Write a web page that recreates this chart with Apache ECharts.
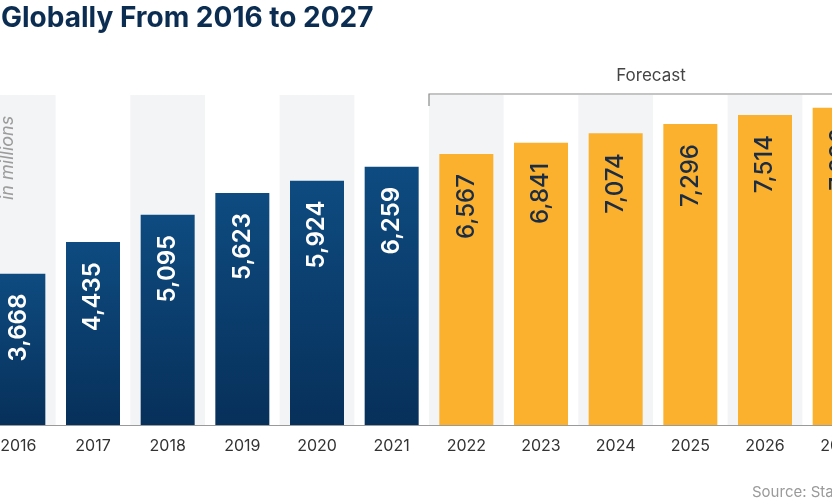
<!DOCTYPE html>
<html>
<head>
<meta charset="utf-8">
<script src="https://cdn.jsdelivr.net/npm/echarts@6/dist/echarts.min.js"></script>
<style>
html,body{margin:0;padding:0;background:#fff;overflow:hidden;width:832px;height:498px;position:relative;}
#chart{position:absolute;left:-19px;top:0;width:900px;height:498px;}
</style>
</head>
<body>
<div id="chart"></div>
<script>
var years = ['2016','2017','2018','2019','2020','2021','2022','2023','2024','2025','2026','2027'];
var values = [3668, 4435, 5095, 5623, 5924, 6259, 6567, 6841, 7074, 7296, 7514, 7690];
var forecastFrom = '2022';
var titleText = 'Globally From 2016 to 2027';
var unitText = 'in millions';
var forecastText = 'Forecast';
var sourceText = 'Source: Statista';

var OFF = 19; // container is shifted left by this many px
var fIdx = years.indexOf(forecastFrom);
var navyGrad = new echarts.graphic.LinearGradient(0, 0, 0, 1, [
  {offset: 0, color: '#0e4b80'},
  {offset: 1, color: '#07305a'}
]);
var dataItems = values.map(function (v, i) {
  var fc = i >= fIdx;
  return {
    value: v,
    itemStyle: {color: fc ? '#fbb12e' : navyGrad},
    label: {color: fc ? '#1b2c45' : '#ffffff', fontWeight: fc ? 500 : 600}
  };
});

var chart = echarts.init(document.getElementById('chart'), null, {renderer: 'canvas'});
var font = 'Inter, "Noto Sans", sans-serif';
chart.setOption({
  animation: false,
  backgroundColor: '#ffffff',
  grid: {left: 0, top: 95, width: 896, height: 330, containLabel: false},
  xAxis: {
    type: 'category',
    data: years,
    boundaryGap: true,
    axisLine: {show: true, lineStyle: {color: '#9a9a9a', width: 1}},
    axisTick: {show: false},
    axisLabel: {color: '#333', fontSize: 16, fontFamily: font, margin: 13},
    splitArea: {show: true, areaStyle: {color: ['#f3f4f6', 'rgba(255,255,255,0)']}}
  },
  yAxis: {
    type: 'value',
    min: 0, max: 8000,
    show: false,
    splitLine: {show: false}
  },
  series: [{
    type: 'bar',
    data: dataItems,
    barWidth: 54,
    label: {
      show: true,
      position: 'insideTop',
      rotate: 90,
      align: 'right',
      verticalAlign: 'middle',
      distance: 20,
      fontSize: 24,
      fontWeight: 600,
      fontFamily: font,
      formatter: function (p) { return p.value.toLocaleString('en-US'); }
    }
  }]
});

// annotations positioned from the chart's own scales
var half = (chart.convertToPixel({xAxisIndex: 0}, years[1]) - chart.convertToPixel({xAxisIndex: 0}, years[0])) / 2;
var fx = chart.convertToPixel({xAxisIndex: 0}, forecastFrom) - half;
var topY = chart.convertToPixel({yAxisIndex: 0}, 8000);
chart.setOption({
  graphic: [
    {type: 'text', x: OFF + 1, y: 5, style: {text: titleText, fill: '#0b2d52', font: 'bold 28px ' + font}},
    {type: 'text', x: OFF + 8, y: 200, rotation: Math.PI / 2,
      style: {text: unitText, fill: '#9c9c9c', font: 'italic 18px ' + font, textAlign: 'left', textVerticalAlign: 'middle'}},
    {type: 'polyline', shape: {points: [[fx, topY + 11], [fx, topY - 1], [960, topY - 1]]},
      style: {stroke: '#8a8a8a', lineWidth: 1.2, fill: null}},
    {type: 'text', x: OFF + 651, y: 76, style: {text: forecastText, fill: '#444', font: '17px ' + font, textAlign: 'center', textVerticalAlign: 'middle'}},
    {type: 'text', x: OFF + 752, y: 492, style: {text: sourceText, fill: '#9a9a9a', font: '15px ' + font, textAlign: 'left', textVerticalAlign: 'middle'}}
  ]
});
</script>
</body>
</html>
